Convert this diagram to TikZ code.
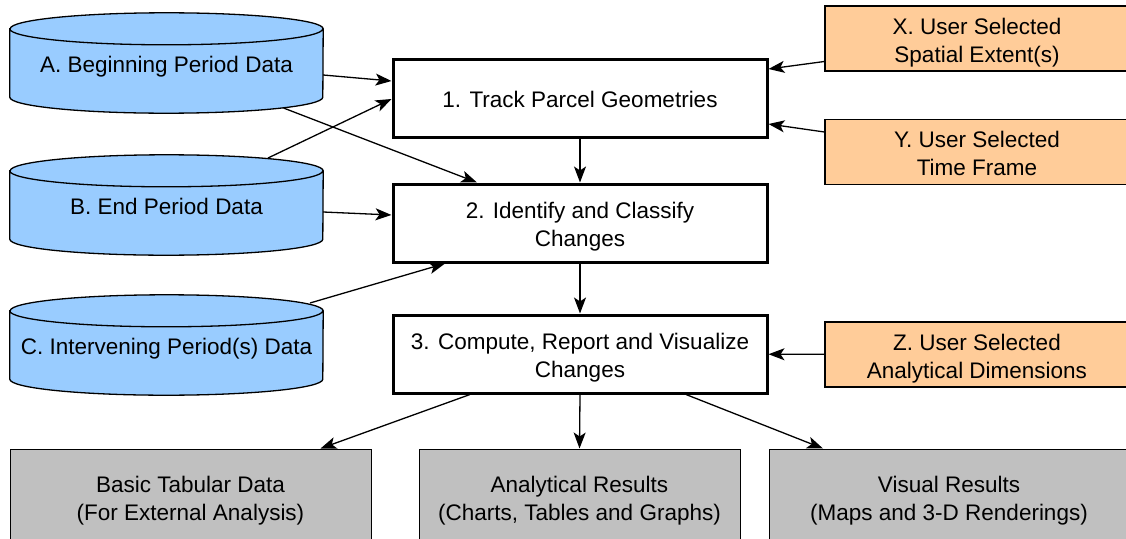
\documentclass[tikz,border=0pt]{standalone}
\usepackage{fontspec}
\setmainfont{Liberation Sans}
\usetikzlibrary{arrows.meta,calc,backgrounds}
\definecolor{storeblue}{HTML}{99CCFF}
\definecolor{userorange}{HTML}{FFCC99}
\definecolor{resultgray}{HTML}{C0C0C0}
\begin{document}
\begin{tikzpicture}[x=1pt, y=-1pt, >={Stealth[length=16pt,width=12pt,inset=4pt]},
	every node/.style={font=\fontsize{22.5}{28}\selectfont, align=center, inner sep=0pt,
		text height=20pt, text depth=2pt},
	twoline/.style={text height=49pt},
	store/.style={minimum width=313pt, minimum height=100pt},
	proc/.style={draw, line width=3pt, fill=white, minimum width=374pt, minimum height=78pt},
	user/.style={twoline, draw, line width=1.3pt, fill=userorange, minimum width=304pt, minimum height=65pt},
	result/.style={twoline, draw, line width=1pt, fill=resultgray, minimum height=96pt},
	flow/.style={->, line width=1.3pt}]
	\useasboundingbox (0,0) rectangle (1126,538);
	\path
		(166.5,63) node[store] (A) {A. Beginning Period Data}
		(166.5,205) node[store] (B) {B. End Period Data}
		(166.5,345) node[store] (C) {C. Intervening Period(s) Data}
		(580,98) node[proc] (P1) {1. Track Parcel Geometries}
		(580,223) node[proc, twoline] (P2) {2. Identify and Classify\\Changes}
		(580,354) node[proc, twoline] (P3) {3. Compute, Report and Visualize\\Changes}
		(977,38.5) node[user] (X) {X. User Selected\\Spatial Extent(s)}
		(977,152) node[user] (Y) {Y. User Selected\\Time Frame}
		(977,354.5) node[user] (Z) {Z. User Selected\\Analytical Dimensions}
		(190.5,497) node[result, minimum width=361pt] (R1) {Basic Tabular Data\\(For External Analysis)}
		(579.5,497) node[result, minimum width=321pt] (R2) {Analytical Results\\(Charts, Tables and Graphs)}
		(949,497) node[result, minimum width=360pt] (R3) {Visual Results\\(Maps and 3-D Renderings)}
	;
	\begin{scope}[on background layer]
		\foreach \s in {A,B,C}
			\draw[line width=1.3pt, fill=storeblue]
				([yshift=-16pt]\s.north west) -- ([yshift=16pt]\s.south west)
				arc[start angle=180, end angle=360, x radius=156.5pt, y radius=16pt]
				-- ([yshift=-16pt]\s.north east)
				arc[start angle=0, end angle=180, x radius=156.5pt, y radius=16pt] -- cycle
				([yshift=-16pt]\s.north west)
				arc[start angle=180, end angle=360, x radius=156.5pt, y radius=16pt];
	\end{scope}
	\path[flow]
		($(A.east)+(0,12)$) edge ($(P1.west)+(0,-17)$)
		($(B.center)+(101.5,-47)$) edge ($(P1.west)+(0,1)$)
		($(A.center)+(117,45)$) edge ($(P2.north)+(-103,0)$)
		(P1) edge (P2)
		($(B.east)+(0,7)$) edge ($(P2.west)+(0,-8)$)
		($(C.center)+(143.5,-42)$) edge ($(P2.south)+(-135,0)$)
		(P2) edge (P3)
		($(X.west)+(0,23)$) edge ($(P1.east)+(0,-29)$)
		($(Y.west)+(0,-20)$) edge ($(P1.east)+(0,26)$)
		(Z) edge (P3)
		($(P3.south)+(-110,0)$) edge ($(R1.north)+(130,0)$)
		(P3.south) edge (R2.north)
		($(P3.south)+(106,0)$) edge ($(R3.north)+(-126,0)$)
	;
\end{tikzpicture}
\end{document}
